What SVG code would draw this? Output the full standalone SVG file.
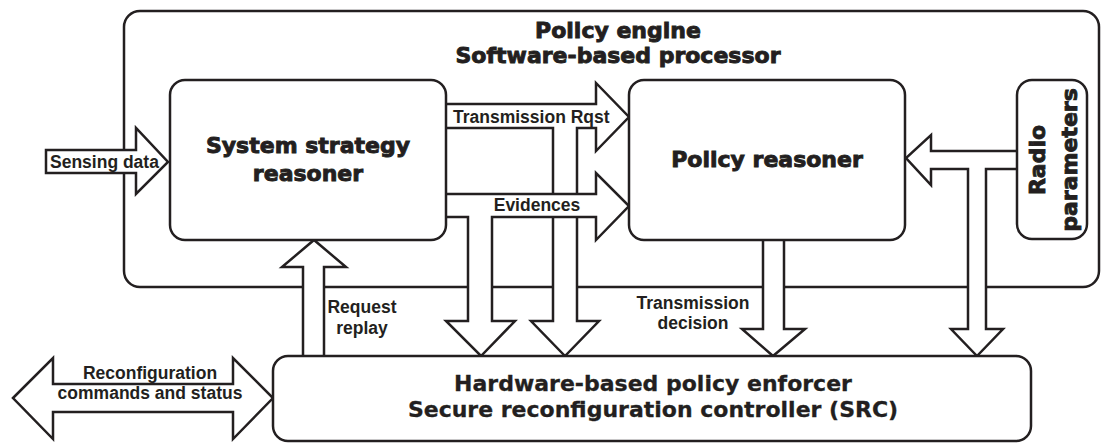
<svg xmlns="http://www.w3.org/2000/svg" width="1102" height="443" viewBox="0 0 1102 443">
<style>
.box{fill:#fff;stroke:#231f20;stroke-width:2.5}
.arr{fill:#fff;stroke:#231f20;stroke-width:2.5;stroke-linejoin:miter}
.title{font-family:"DejaVu Sans",sans-serif;font-weight:bold;font-size:22px;fill:#231f20;stroke:#231f20;stroke-width:0.9;text-anchor:middle}
.src{font-family:"DejaVu Sans",sans-serif;font-weight:bold;font-size:22px;fill:#231f20;stroke:#231f20;stroke-width:0.3;text-anchor:middle}
.lbl{font-family:"Liberation Sans",Arial,sans-serif;font-weight:bold;font-size:17.5px;fill:#231f20;text-anchor:middle}
</style>
<rect width="1102" height="443" fill="#fff"/>
<g id="policy-engine">
<rect class="box" x="124" y="11" width="975" height="276" rx="16"/>
<text class="title" x="618" y="38">Policy engine</text>
<text class="title" x="618" y="63">Software-based processor</text>
</g>
<g id="connectors">
<path id="sensing-data" class="arr" d="M46,150 H136 V128 L168,162 L136,194 V173 H46 Z"/>
<text class="lbl" x="50" y="168" style="text-anchor:start">Sensing data</text>
<path id="transmission-rqst" class="arr" d="M447,104 H596 V83 L629,117 L596,151 V128 H577 V321 H599 L565,356 L531,321 H553 V128 H447"/>
<text class="lbl" x="453" y="123" style="text-anchor:start">Transmission Rqst</text>
<path id="evidences" class="arr" d="M447,194 H596 V173 L629,206 L596,240 V217 H492 V321 H515 L481,356 L446,321 H468 V217 H447"/>
<text class="lbl" x="537" y="211">Evidences</text>
<path id="request-replay" class="arr" d="M303,356 V267 H282 L314,240 L346,267 H324 V356"/>
<text class="lbl" x="362" y="313">Request</text>
<text class="lbl" x="362" y="334">replay</text>
<path id="transmission-decision" class="arr" d="M763,240 V329 H742 L773,356 L805,329 H784 V240"/>
<text class="lbl" x="693" y="309">Transmission</text>
<text class="lbl" x="693" y="329">decision</text>
<path id="radio-params" class="arr" d="M1017,151 H931 V135 L906,158 L931,185 V169 H968 V329 H951 L977,356 L1003,329 H986 V169 H1017"/>
<path id="reconfiguration" class="arr" d="M13,398 L53,358 V384 H233 V358 L273,398 L233,439 V412 H53 V439 Z"/>
<text class="lbl" x="150" y="379">Reconfiguration</text>
<text class="lbl" x="150" y="399">commands and status</text>
</g>
<g id="system-strategy-reasoner">
<rect class="box" x="170" y="80" width="276" height="160" rx="15"/>
<text class="title" x="308" y="153">System strategy</text>
<text class="title" x="308" y="181">reasoner</text>
</g>
<g id="policy-reasoner">
<rect class="box" x="629" y="80" width="276" height="160" rx="15"/>
<text class="title" x="767" y="167">Policy reasoner</text>
</g>
<g id="radio-parameters">
<rect class="box" x="1017" y="80" width="70" height="159" rx="15"/>
<text class="title" transform="translate(1045,160) rotate(-90)">Radio</text>
<text class="title" transform="translate(1077,160) rotate(-90)">parameters</text>
</g>
<g id="src">
<rect class="box" x="273" y="356" width="758" height="85" rx="15"/>
<text class="src" x="653" y="391">Hardware-based policy enforcer</text>
<text class="src" x="653" y="417">Secure reconfiguration controller (SRC)</text>
</g>
</svg>
